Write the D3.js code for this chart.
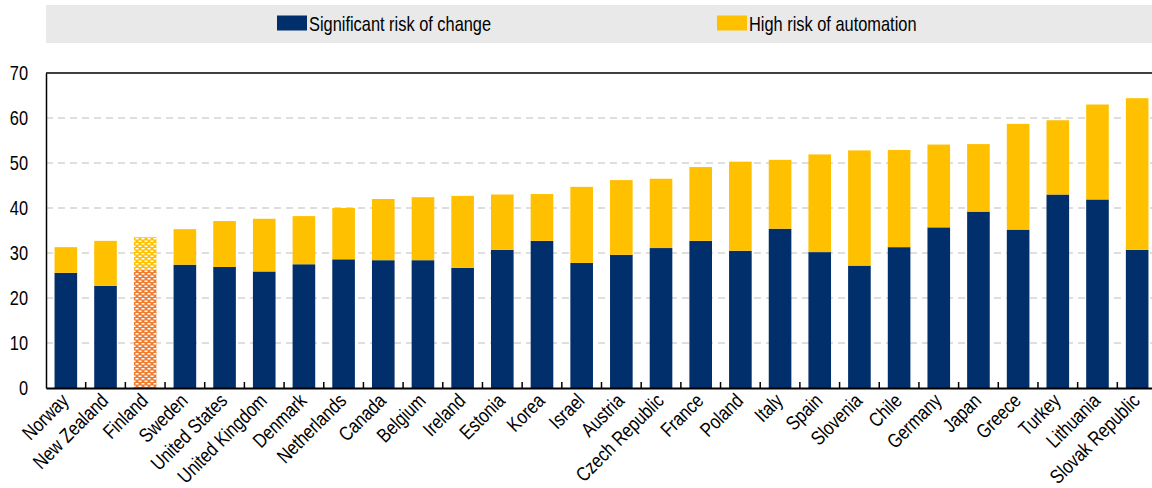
<!DOCTYPE html>
<html>
<head>
<meta charset="utf-8">
<script src="https://cdn.jsdelivr.net/npm/d3@7"></script>
<style>
	body { margin: 0; background: #fff; }
	svg { display: block; }
	text { font-family: "Liberation Sans", Arial, sans-serif; }
</style>
</head>
<body>
<script>
// data (percent of jobs)
var countries = ["Norway", "New Zealand", "Finland", "Sweden", "United States", "United Kingdom", "Denmark",
	"Netherlands", "Canada", "Belgium", "Ireland", "Estonia", "Korea", "Israel", "Austria", "Czech Republic",
	"France", "Poland", "Italy", "Spain", "Slovenia", "Chile", "Germany", "Japan", "Greece", "Turkey",
	"Lithuania", "Slovak Republic"];
var significantRisk = [25.6, 22.7, 26.3, 27.4, 26.9, 25.9, 27.5, 28.6, 28.4, 28.4, 26.7, 30.7, 32.7, 27.8,
	29.6, 31.1, 32.7, 30.5, 35.4, 30.2, 27.2, 31.3, 35.7, 39.2, 35.2, 43.0, 41.9, 30.7];
var highRisk = [5.7, 10.0, 7.2, 7.9, 10.2, 11.7, 10.7, 11.4, 13.6, 14.0, 16.0, 12.3, 10.4, 16.9,
	16.6, 15.4, 16.4, 19.8, 15.3, 21.7, 25.6, 21.6, 18.4, 15.0, 23.5, 16.5, 21.1, 33.7];
var seriesNames = ["Significant risk of change", "High risk of automation"];
var highlighted = ["Finland"];
var yTicks = [0, 10, 20, 30, 40, 50, 60, 70];

function makeGraph() {
	//Width and height
	var w = 1152;
	var h = 488;
	var plotLeft = 46, plotRight = 1157, plotTop = 73, plotBottom = 388;
	var narrow = " scale(0.82,1)"; // no Arial Narrow here, so squeeze the glyphs

	var blue = "#002f6c", yellow = "#ffc000", orange = "#ef7d31";

	var dataset = countries.map(function(c, i) {
		return { country: c, significant: significantRisk[i], high: highRisk[i] };
	});

	var stack = d3.stack().keys(["significant", "high"]);
	var layers = stack(dataset);

	var xScale = d3.scaleBand()
		.domain(countries)
		.range([plotLeft, plotRight])
		.paddingInner(0.43)
		.paddingOuter(0.215);

	var yScale = d3.scaleLinear()
		.domain([0, 70])
		.range([plotBottom, plotTop]);

	var svg = d3.select("body")
		.append("svg")
		.attr("width", w)
		.attr("height", h);

	// hatch patterns for the highlighted bar
	var defs = svg.append("defs");
	[["hatchOrange", orange], ["hatchYellow", yellow]].forEach(function(p) {
		var pat = defs.append("pattern")
			.attr("id", p[0])
			.attr("patternUnits", "userSpaceOnUse")
			.attr("width", 6)
			.attr("height", 5);
		pat.append("rect").attr("width", 6).attr("height", 5).attr("fill", p[1]);
		pat.append("rect").attr("x", 0.5).attr("y", 0.5).attr("width", 3).attr("height", 1.5).attr("fill", "#fff");
		pat.append("rect").attr("x", 3.5).attr("y", 3).attr("width", 2.5).attr("height", 1.5).attr("fill", "#fff");
		pat.append("rect").attr("x", 0).attr("y", 3).attr("width", 0.5).attr("height", 1.5).attr("fill", "#fff");
	});

	//Legend
	svg.append("rect")
		.attr("x", plotLeft)
		.attr("y", 5)
		.attr("width", w - plotLeft)
		.attr("height", 38)
		.attr("fill", "#e9e9e9");

	var legendX = [277, 717];
	var legend = svg.selectAll("g.legend")
		.data(seriesNames)
		.enter()
		.append("g")
		.attr("class", "legend")
		.attr("transform", function(d, i) { return "translate(" + legendX[i] + ",15.5)"; });
	legend.append("rect")
		.attr("width", 30)
		.attr("height", 15)
		.attr("fill", function(d, i) { return i == 0 ? blue : yellow; });
	legend.append("text")
		.attr("transform", "translate(32,15)" + narrow)
		.attr("font-size", 20)
		.attr("fill", "#000")
		.text(function(d) { return d; });

	//Gridlines
	svg.selectAll("line.grid")
		.data(yTicks.filter(function(d) { return d > 0 && d < 70; }))
		.enter()
		.append("line")
		.attr("class", "grid")
		.attr("x1", plotLeft)
		.attr("x2", plotRight)
		.attr("y1", function(d) { return yScale(d); })
		.attr("y2", function(d) { return yScale(d); })
		.attr("stroke", "#d4d4d4")
		.attr("stroke-width", 1.5)
		.attr("stroke-dasharray", "7,5");

	// top frame line
	svg.append("line")
		.attr("x1", plotLeft)
		.attr("x2", plotRight)
		.attr("y1", plotTop)
		.attr("y2", plotTop)
		.attr("stroke", "#000")
		.attr("stroke-width", 1.5);

	//Bars
	svg.selectAll("g.layer")
		.data(layers)
		.enter()
		.append("g")
		.attr("class", "layer")
		.each(function(layer, li) {
			d3.select(this).selectAll("rect")
				.data(layer)
				.enter()
				.append("rect")
				.attr("x", function(d) { return xScale(d.data.country); })
				.attr("y", function(d) { return yScale(d[1]); })
				.attr("width", xScale.bandwidth())
				.attr("height", function(d) { return yScale(d[0]) - yScale(d[1]); })
				.attr("fill", function(d) {
					var hl = highlighted.indexOf(d.data.country) >= 0;
					if (li == 0) return hl ? "url(#hatchOrange)" : blue;
					return hl ? "url(#hatchYellow)" : yellow;
				});
		});

	//Y axis
	var yAxis = d3.axisLeft(yScale)
		.tickValues(yTicks)
		.tickSize(0)
		.tickSizeOuter(0)
		.tickPadding(18);
	var gy = svg.append("g")
		.attr("transform", "translate(" + plotLeft + ",0)")
		.call(yAxis);
	gy.select(".domain").attr("stroke", "#000").attr("stroke-width", 1.5);
	gy.selectAll("text")
		.attr("font-size", 20)
		.attr("fill", "#000")
		.attr("font-family", null)
		.attr("x", 0)
		.attr("transform", "translate(-18,0)" + narrow);

	//X axis
	var xAxis = d3.axisBottom(xScale)
		.tickSize(0)
		.tickSizeOuter(0);
	var gx = svg.append("g")
		.attr("transform", "translate(0," + plotBottom + ")")
		.call(xAxis);
	gx.select(".domain").attr("stroke", "#000").attr("stroke-width", 2);
	gx.selectAll("text")
		.attr("font-size", 20)
		.attr("font-family", null)
		.attr("fill", "#000")
		.attr("text-anchor", "end")
		.attr("y", 0)
		.attr("dy", null)
		.attr("transform", "translate(4,14) rotate(-45)" + narrow);

	// small ticks between the bars, pointing up
	var step = xScale.step();
	svg.selectAll("line.sep")
		.data(countries.slice(1))
		.enter()
		.append("line")
		.attr("class", "sep")
		.attr("x1", function(d) { return xScale(d) - step * xScale.paddingInner() / 2; })
		.attr("x2", function(d) { return xScale(d) - step * xScale.paddingInner() / 2; })
		.attr("y1", plotBottom)
		.attr("y2", plotBottom - 6)
		.attr("stroke", "#000")
		.attr("stroke-width", 1.5);
}

makeGraph();
</script>
</body>
</html>
